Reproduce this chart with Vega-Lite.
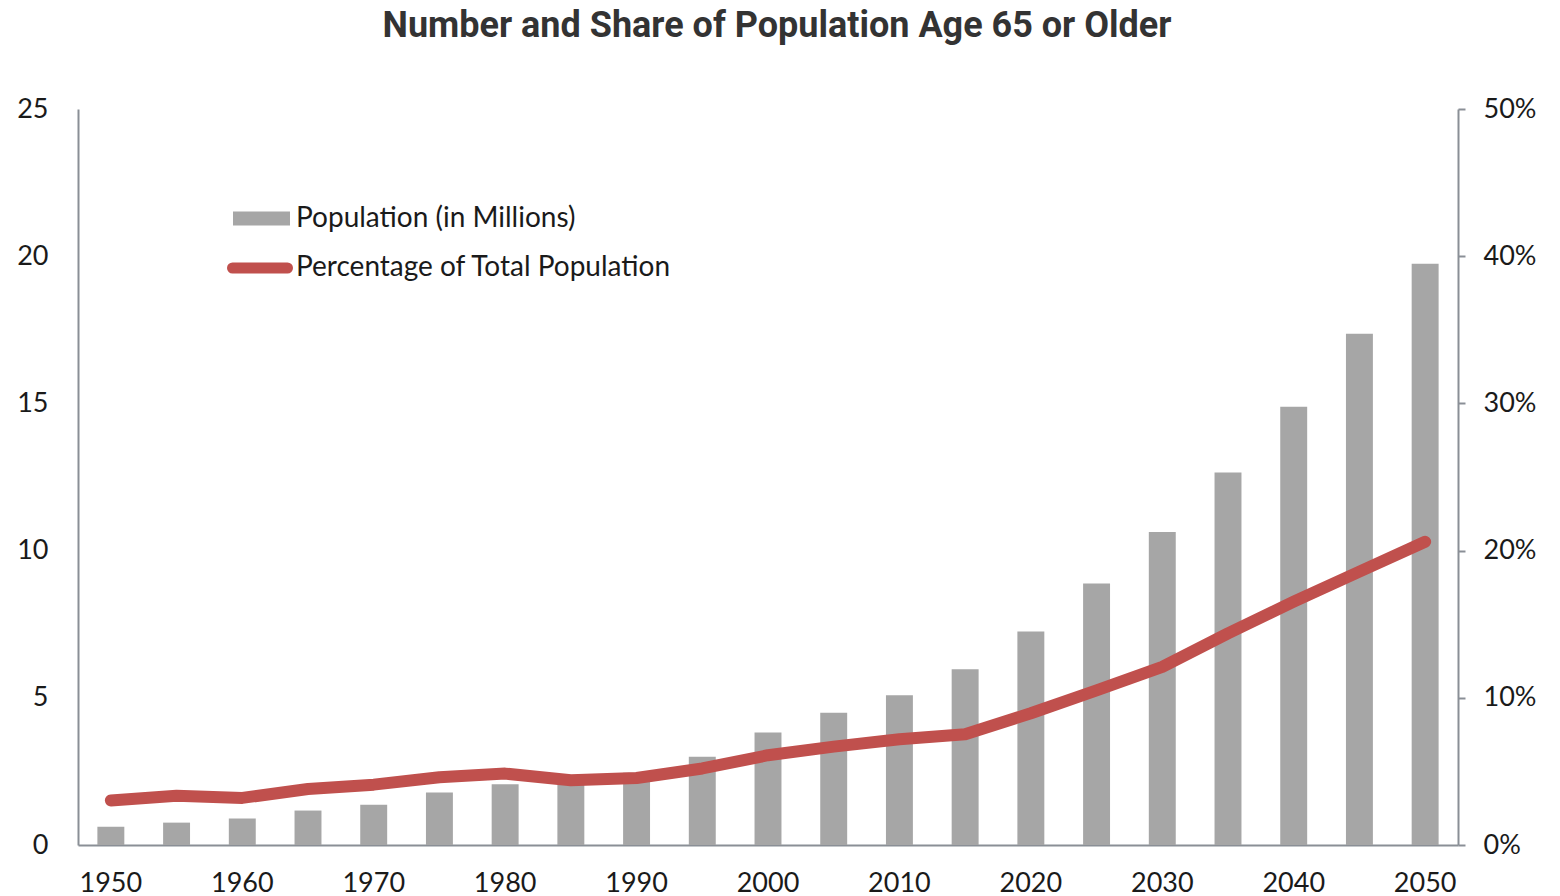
{
  "$schema": "https://vega.github.io/schema/vega-lite/v6.json",
  "width": 1380,
  "height": 736,
  "autosize": {"type": "none"},
  "padding": {"left": 78, "top": 109, "right": 102, "bottom": 51},
  "background": "white",
  "title": {
    "text": "Number and Share of Population Age 65 or Older",
    "font": "Roboto",
    "fontSize": 36,
    "fontWeight": "bold",
    "color": "#333333",
    "anchor": "middle",
    "dx": 9,
    "offset": 50
  },
  "config": {
    "view": {"stroke": null},
    "axis": {"grid": false, "labelFont": "Lato", "labelFontSize": 27, "labelColor": "#1a1a1a", "domainColor": "#8a8f96", "domainWidth": 2, "tickColor": "#8a8f96", "tickWidth": 2}
  },
  "data": {
    "values": [
      {"year": 1950, "pop": 0.62, "pct": 3.03},
      {"year": 1955, "pop": 0.76, "pct": 3.35},
      {"year": 1960, "pop": 0.90, "pct": 3.2},
      {"year": 1965, "pop": 1.17, "pct": 3.8},
      {"year": 1970, "pop": 1.37, "pct": 4.1},
      {"year": 1975, "pop": 1.78, "pct": 4.6},
      {"year": 1980, "pop": 2.06, "pct": 4.85},
      {"year": 1985, "pop": 2.3, "pct": 4.4},
      {"year": 1990, "pop": 2.45, "pct": 4.55},
      {"year": 1995, "pop": 3.0, "pct": 5.2},
      {"year": 2000, "pop": 3.82, "pct": 6.1},
      {"year": 2005, "pop": 4.49, "pct": 6.68},
      {"year": 2010, "pop": 5.09, "pct": 7.18},
      {"year": 2015, "pop": 5.97, "pct": 7.52},
      {"year": 2020, "pop": 7.25, "pct": 8.95},
      {"year": 2025, "pop": 8.88, "pct": 10.5},
      {"year": 2030, "pop": 10.63, "pct": 12.1},
      {"year": 2035, "pop": 12.65, "pct": 14.38},
      {"year": 2040, "pop": 14.89, "pct": 16.53},
      {"year": 2045, "pop": 17.37, "pct": 18.57},
      {"year": 2050, "pop": 19.74, "pct": 20.6}
    ]
  },
  "encoding": {
    "x": {
      "field": "year",
      "type": "ordinal",
      "scale": {"paddingInner": 0.59, "paddingOuter": 0.295},
      "axis": {
        "title": null,
        "labelAngle": 0,
        "ticks": false,
        "labelPadding": 25,
        "labelOverlap": false,
        "labelExpr": "datum.value % 10 === 0 ? datum.label : ''"
      }
    }
  },
  "layer": [
    {
      "mark": {"type": "bar"},
      "encoding": {
        "y": {
          "field": "pop",
          "type": "quantitative",
          "scale": {"domain": [0, 25]},
          "axis": {"title": null, "orient": "left", "values": [0, 5, 10, 15, 20, 25], "ticks": false, "labelPadding": 30}
        },
        "fill": {
          "datum": "Population (in Millions)",
          "scale": {"range": ["#a6a6a6"]},
          "legend": {
            "title": null,
            "orient": "none",
            "legendX": 155,
            "legendY": 81,
            "padding": 0,
            "symbolType": "M-1,-0.245H1V0.245H-1Z",
            "symbolSize": 3249,
            "symbolStrokeWidth": 0,
            "labelFont": "Lato",
            "labelFontSize": 28,
            "labelLimit": 0,
            "labelColor": "#1a1a1a",
            "labelOffset": 6
          }
        }
      }
    },
    {
      "mark": {"type": "line", "strokeWidth": 12, "strokeCap": "round", "strokeJoin": "round"},
      "encoding": {
        "y": {
          "field": "pct",
          "type": "quantitative",
          "scale": {"domain": [0, 50]},
          "axis": {"title": null, "orient": "right", "values": [0, 10, 20, 30, 40, 50], "tickSize": 7, "labelPadding": 18, "labelExpr": "datum.value + '%'"}
        },
        "stroke": {
          "datum": "Percentage of Total Population",
          "scale": {"range": ["#c0504d"]},
          "legend": {
            "title": null,
            "orient": "none",
            "legendX": 149,
            "legendY": 126,
            "padding": 0,
            "symbolType": "stroke",
            "symbolSize": 3025,
            "symbolStrokeWidth": 11,
            "labelFont": "Lato",
            "labelFontSize": 28,
            "labelLimit": 0,
            "labelColor": "#1a1a1a",
            "labelOffset": 3,
            "encode": {"symbols": {"update": {"strokeCap": {"value": "round"}}}}
          }
        }
      }
    }
  ],
  "resolve": {"scale": {"y": "independent"}}
}
